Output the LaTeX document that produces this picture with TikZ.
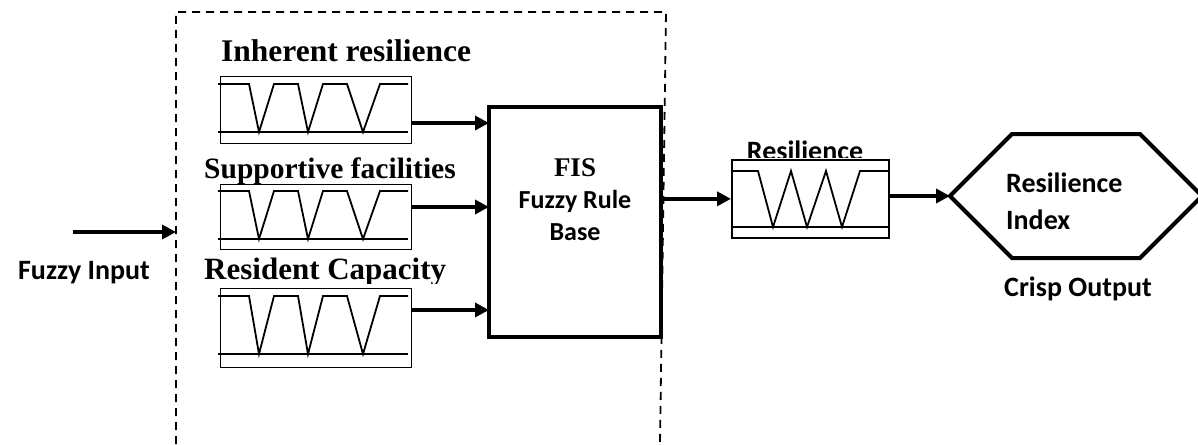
\documentclass[tikz,border=0pt]{standalone}
\usepackage{fontspec}
\setmainfont{Liberation Serif}
\newfontfamily\calib{Carlito}
\usetikzlibrary{arrows.meta,calc}
\newcommand\mfwave[3]{%
  \coordinate (o) at (#1.north west);
  \draw[wave] ($(o)+(-2,#2)$) -- ($(o)+(29,#2)$) -- ($(o)+(39,#3)$) -- ($(o)+(54,#2)$)
     -- ($(o)+(78,#2)$) -- ($(o)+(88,#3)$) -- ($(o)+(103,#2)$) -- ($(o)+(127,#2)$)
     -- ($(o)+(143,#3)$) -- ($(o)+(160,#2)$) -- ($(o)+(188,#2)$);
  \draw[baseline line] ($(o)+(-2,#3)$) -- ($(o)+(188,#3)$);
}
\begin{document}
\begin{tikzpicture}[x=1pt,y=-1pt,
  mfbox/.style={draw,line width=1.4pt,minimum width=191pt,inner sep=0pt,anchor=north west},
  resbox/.style={draw,line width=1.7pt,minimum width=157pt,minimum height=78pt,inner sep=0pt,anchor=north west},
  wave/.style={line width=1.8pt,line join=miter},
  baseline line/.style={line width=2pt},
  arr/.style={line width=4pt,-{Triangle[length=14pt,width=14pt]}},
  dashbox/.style={line width=1.8pt,dash pattern=on 8pt off 6pt},
  serlabel/.style={font=\bfseries,anchor=base west,inner sep=0pt},
  sanslabel/.style={font=\calib\bfseries\fontsize{28}{34}\selectfont,inner sep=0pt}]
\useasboundingbox (0,0) rectangle (1198,444);

% dashed enclosure
\draw[dashbox] (176,444) -- (176,12) -- (666,12) -- (660,444);

% fuzzy input
\coordinate (fin) at (73,232);
\coordinate (dl) at (176,232);
\draw[arr] (fin) -- (dl);
\node[sanslabel] (fuzzyin) at (84,273) {Fuzzy Input};

% labels
\node[serlabel,font=\bfseries\fontsize{31.5}{36}\selectfont] (l1) at (221,61) {Inherent resilience};
\node[serlabel,font=\bfseries\fontsize{29.5}{36}\selectfont] (l2) at (204,178) {Supportive facilities};
\begin{scope}
\clip (0,0) rectangle (700,283);
\node[serlabel,font=\bfseries\fontsize{31}{36}\selectfont] (l3) at (204,279) {Resident Capacity};
\end{scope}

% membership boxes
\node[mfbox,minimum height=67pt] (m1) at (220,76) {};
\mfwave{m1}{8}{56}
\node[mfbox,minimum height=65pt] (m2) at (220,184) {};
\mfwave{m2}{7}{55}
\node[mfbox,minimum height=79pt] (m3) at (220,288) {};
\mfwave{m3}{8}{66}

% FIS box
\node[draw,line width=4pt,minimum width=172pt,minimum height=230pt,inner sep=0pt] (fis) at (575,222) {};
\node[align=center,inner sep=0pt,font=\calib\bfseries\fontsize{26}{32}\selectfont] (fistext) at (575,200)
  {{\rmfamily\bfseries\fontsize{27}{32}\selectfont FIS}\\Fuzzy Rule\\Base};
\coordinate (f1) at (489,123);
\coordinate (f2) at (489,207);
\coordinate (f3) at (489,310);
\draw[arr] (m1.east |- f1) -- (f1);
\draw[arr] (m2.east |- f2) -- (f2);
\draw[arr] (m3.east |- f3) -- (f3);

% resilience output box
\begin{scope}
\clip (600,0) rectangle (950,157);
\node[inner sep=0pt,anchor=base,font=\calib\bfseries\fontsize{28}{34}\selectfont] (reslabel) at (805,160) {Resilience};
\end{scope}
\node[resbox] (res) at (731,159) {};
\coordinate (ro) at (res.north west);
\draw[wave] ($(ro)+(0,12)$) -- ($(ro)+(27,12)$) -- ($(ro)+(42,68)$) -- ($(ro)+(60,12)$)
  -- ($(ro)+(76,68)$) -- ($(ro)+(95,12)$) -- ($(ro)+(111,68)$) -- ($(ro)+(129,12)$) -- ($(ro)+(157,12)$);
\draw[baseline line] ($(ro)+(0,68)$) -- ($(ro)+(157,68)$);
\draw[arr] (fis.east |- res.west) -- (res.west);

% hexagon
\coordinate (hexw) at (950,196);
\draw[line width=4pt,line join=miter] (hexw) -- (1012,134) -- (1140,134) -- (1202,196) -- (1140,258) -- (1012,258) -- cycle;
\node[align=left,anchor=west,inner sep=0pt,font=\calib\bfseries\fontsize{28}{37}\selectfont] (hextext) at (1006,201.5) {Resilience\\Index};
\draw[arr] (res.east |- hexw) -- (hexw);
\node[sanslabel] (crisp) at (1078,289) {Crisp Output};
\end{tikzpicture}
\end{document}
